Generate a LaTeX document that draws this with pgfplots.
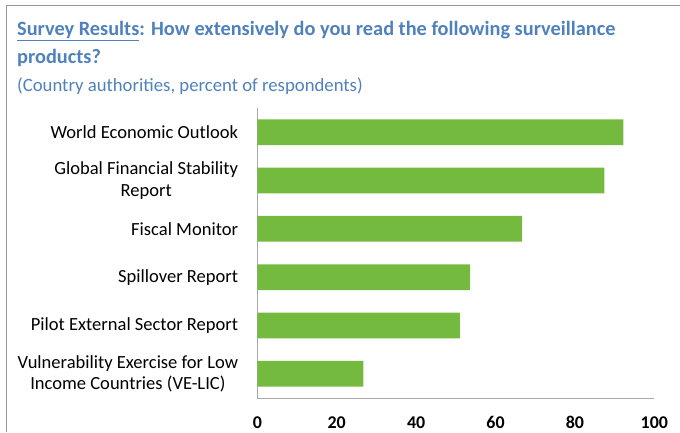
\documentclass[border=0pt]{standalone}
\usepackage{fontspec}
\setmainfont{Carlito}
\usepackage{pgfplots}
\pgfplotsset{compat=1.18}
\definecolor{titleblue}{RGB}{79,129,189}
\definecolor{bargreen}{RGB}{116,186,63}
\definecolor{axgray}{RGB}{170,170,170}
\definecolor{framegray}{RGB}{150,150,150}
\begin{document}
\begin{tikzpicture}[x=1bp,y=1bp]
\useasboundingbox (0,0) rectangle (680,432);
\draw[framegray, line width=1bp] (6,0) -- (6,426) -- (680,426);
\node[anchor=base west, inner sep=0, text=titleblue, font=\fontsize{20.4}{24}\selectfont\bfseries] at (17,396) {\underline{Survey Results}: How extensively do you read the following surveillance};
\node[anchor=base west, inner sep=0, text=titleblue, font=\fontsize{20.4}{24}\selectfont\bfseries] at (17,369) {products?};
\node[anchor=base west, inner sep=0, text=titleblue, font=\fontsize{18.8}{22}\selectfont] at (17,341) {(Country authorities, percent of respondents)};
\begin{axis}[
  scale only axis, width=397bp, height=290bp,
  at={(257.3bp,34bp)}, anchor=south west,
  xbar, bar width=25.7bp, bar shift=0pt,
  xmin=0, xmax=100, ymin=-0.5, ymax=5.5,
  axis x line=bottom, axis y line=left,
  axis line style={axgray, line width=1bp, -},
  xtick={0,20,...,100}, ytick={0,...,5},
  major tick length=0pt,
  /pgf/number format/assume math mode=true,
  xticklabel style={font=\fontsize{18}{22}\selectfont\bfseries, anchor=base, yshift=-30bp, inner sep=0pt},
  yticklabel style={font=\fontsize{18.6}{22}\selectfont, align=center, anchor=east, inner sep=0pt, xshift=-19bp},
  yticklabels={{Vulnerability Exercise for Low\\Income Countries (VE-LIC)},
    {Pilot External Sector Report},
    {Spillover Report},
    {Fiscal Monitor},
    {Global Financial Stability\\Report},
    {World Economic Outlook}},
]
\addplot[fill=bargreen, draw=none] coordinates {(26.7,0) (51.0,1) (53.6,2) (66.7,3) (87.4,4) (92.2,5)};
\end{axis}
\end{tikzpicture}
\end{document}
